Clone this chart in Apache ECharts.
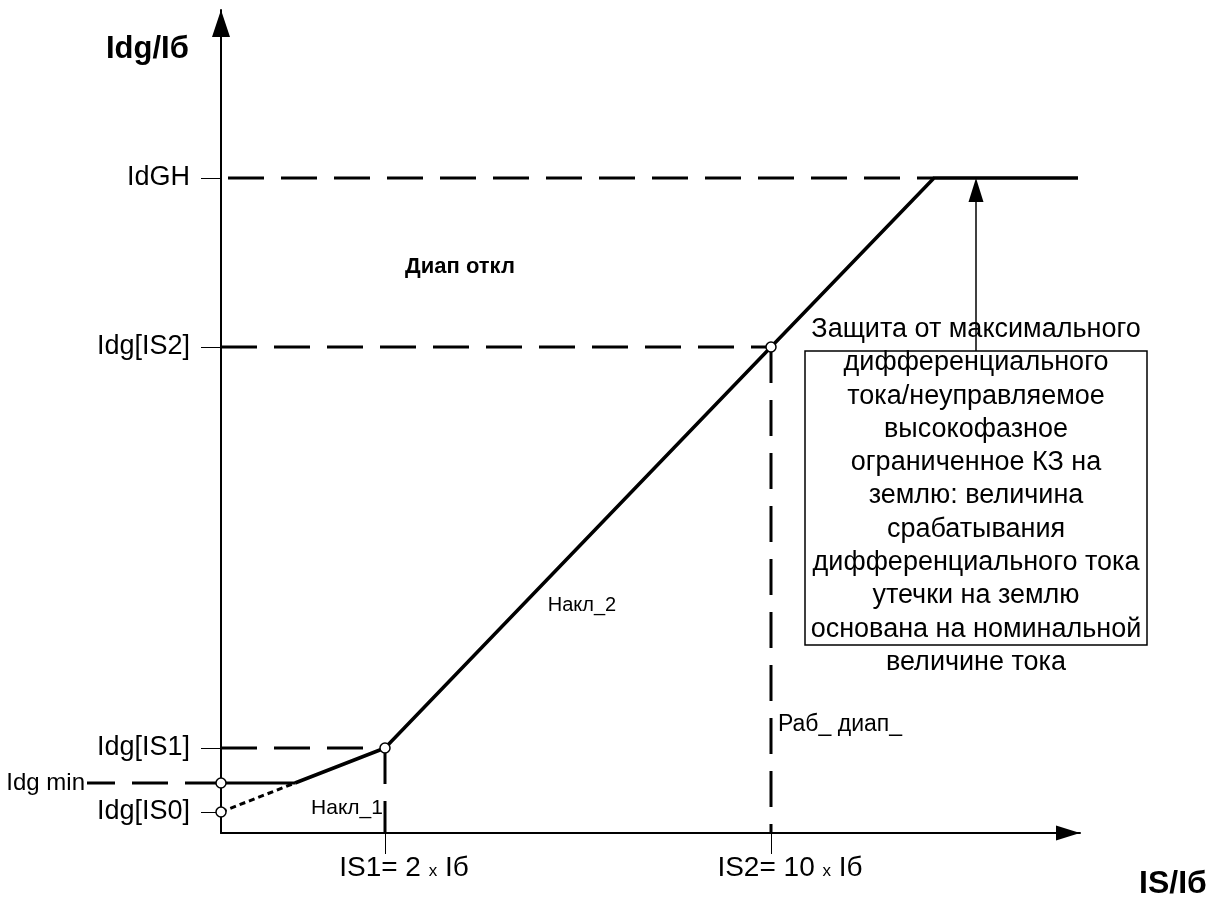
<!DOCTYPE html>
<html>
<head>
<meta charset="utf-8">
<title>Idg/Iб</title>
<script src="https://cdn.jsdelivr.net/npm/echarts@6/dist/echarts.min.js"></script>
<style>
  html, body { margin: 0; padding: 0; background: #fff; }
  #chart { width: 1227px; height: 914px; }
</style>
</head>
<body>
<div id="chart"></div>
<script>
// уровни по оси Y (условные единицы схемы)
var yTickValues = [65.5, 48.6, 8.5, 2.1];
var yTickLabels = ['IdGH', 'Idg[IS2]', 'Idg[IS1]', 'Idg[IS0]'];
var idgMin = 5.0;
var idgMinLabel = 'Idg min';

// точки по оси X
var xTickValues = [16.4, 55.0];
var xTickLabels = ['IS1= 2 {s|x} Iб', 'IS2= 10 {s|x} Iб'];

// характеристика срабатывания
var xBreak = 7.4;          // пересечение Накл_1 с Idg min
var xKnee = 71.3;          // выход на IdGH
var xEnd = 85.7;
var tripCurve = [[xBreak, idgMin], [16.4, 8.5], [55.0, 48.6], [xKnee, 65.5], [xEnd, 65.5]];
var minLine = [[0, idgMin], [xBreak, idgMin]];
var slope1Ext = [[0, 2.1], [xBreak, idgMin]];
var circlePts = [[0, idgMin], [0, 2.1], [16.4, 8.5], [55.0, 48.6]];

// вспомогательные штриховые линии (null разрывает отрезки)
var guideLines = [
  [0.7, 65.5], [xKnee, 65.5], null,
  [0, 48.6], [55.0, 48.6], null,
  [0, 8.5], [16.4, 8.5], null,
  [55.0, 48.6], [55.0, 0], null,
  [16.4, 8.5], [16.4, 0]
];
var minLineLeft = [[0, idgMin], [-13.4, idgMin]];   // левее оси Y

// подписи на поле графика
var noteTexts = ['Диап откл', 'Накл_2', 'Накл_1', 'Раб_ диап_'];
var notePos = [[23.9, 56.6], [36.1, 22.8], [12.6, 2.5], [55.7, 10.8]];

// рамка с пояснением и стрелка к IdGH
var boxText = [
  'Защита от максимального',
  'дифференциального',
  'тока/неуправляемое',
  'высокофазное',
  'ограниченное КЗ на',
  'землю: величина',
  'срабатывания',
  'дифференциального тока',
  'утечки на землю',
  'основана на номинальной',
  'величине тока'
];
var boxCorners = [[58.4, 48.2], [92.6, 18.8]];
var boxTextAt = [75.5, 33.7];
var arrowX = 75.5;
var arrowTip = 65.5;

var FONT = '"Liberation Sans", Arial, sans-serif';
var chart = echarts.init(document.getElementById('chart'));

var guideData = guideLines.map(function (p) { return p ? p : [null, null]; });

var noteStyles = [
  { fontSize: 22, fontWeight: 'bold', align: 'center' },
  { fontSize: 20, align: 'center' },
  { fontSize: 21, align: 'center' },
  { fontSize: 23, align: 'left' }
];
function textItem(txt, pos, st) {
  return {
    name: txt,
    value: pos,
    label: {
      show: true, position: 'inside', formatter: txt,
      fontFamily: FONT, color: '#000',
      fontSize: st.fontSize,
      fontWeight: st.fontWeight || 'normal',
      lineHeight: st.lineHeight,
      align: st.align
    }
  };
}
var noteData = noteTexts.map(function (t, i) { return textItem(t, notePos[i], noteStyles[i]); });
noteData.push(textItem(idgMinLabel, [-13.6, idgMin], { fontSize: 24, align: 'right' }));
noteData.push(textItem(boxText.join('\n'), boxTextAt, { fontSize: 27, lineHeight: 33.3, align: 'center' }));

var option = {
  animation: false,
  backgroundColor: '#fff',
  title: [
    { text: 'Idg/Iб', left: 106, top: 34, padding: 0, textStyle: { fontFamily: FONT, fontSize: 31, fontWeight: 'bold', color: '#000' } },
    { text: 'IS/Iб', left: 1139, top: 868, padding: 0, textStyle: { fontFamily: FONT, fontSize: 32, fontWeight: 'bold', color: '#000' } }
  ],
  grid: { left: 221, right: 147, top: 10, bottom: 81 },
  xAxis: {
    type: 'value', min: 0, max: 85.9,
    // стрелка сдвинута назад на половину длины: острие ровно на конце оси
    axisLine: { show: true, onZero: false, symbol: ['none', 'triangle'], symbolSize: [15, 24], symbolOffset: [0, -12], lineStyle: { color: '#000', width: 2 } },
    axisTick: { show: true, customValues: xTickValues, length: 21, inside: false, lineStyle: { color: '#000', width: 1 } },
    axisLabel: {
      show: true, customValues: xTickValues, margin: 21,
      padding: [0, 0, 0, 38],
      formatter: function (v) { return '{a|' + xTickLabels[xTickValues.indexOf(v)].replace('{s|x}', '}{s|x}{a|') + '}'; },
      rich: {
        a: { fontFamily: FONT, fontSize: 28, color: '#000' },
        s: { fontFamily: FONT, fontSize: 17, color: '#000', padding: [7, 0, 0, 0] }
      }
    },
    splitLine: { show: false }
  },
  yAxis: {
    type: 'value', min: 0, max: 82.3,
    axisLine: { show: true, onZero: false, symbol: ['none', 'triangle'], symbolSize: [18, 27], symbolOffset: [0, -13.5], lineStyle: { color: '#000', width: 2 } },
    axisTick: { show: true, customValues: yTickValues, length: 20, inside: false, lineStyle: { color: '#000', width: 1 } },
    axisLabel: {
      show: true, customValues: yTickValues, margin: 31,
      fontFamily: FONT, fontSize: 27, color: '#000',
      formatter: function (v) { return yTickLabels[yTickValues.indexOf(v)]; }
    },
    splitLine: { show: false }
  },
  series: [
    {
      type: 'line', data: guideData, symbol: 'none', connectNulls: false,
      lineStyle: { color: '#000', width: 3, type: [36, 17] }, z: 2
    },
    {
      type: 'line', data: slope1Ext, symbol: 'none',
      lineStyle: { color: '#000', width: 3, type: [6, 4] }, z: 3
    },
    {
      type: 'line', data: minLine, symbol: 'none',
      lineStyle: { color: '#000', width: 3 }, z: 3
    },
    {
      type: 'line', data: tripCurve, symbol: 'none',
      lineStyle: { color: '#000', width: 3.5 }, z: 3
    },
    {
      type: 'scatter', data: circlePts, symbol: 'circle', symbolSize: 10,
      itemStyle: { color: '#fff', borderColor: '#000', borderWidth: 1.5, opacity: 1 }, z: 5
    },
    {
      type: 'scatter', data: noteData, clip: false, symbolSize: 0,
      itemStyle: { opacity: 1 }, z: 6
    }
  ]
};
chart.setOption(option);

// рамка, стрелка и левый кусок Idg min выходят за сетку —
// рисуем их по пикселям, полученным из осей
function px(p) { return chart.convertToPixel({ gridIndex: 0 }, p); }
var b0 = px(boxCorners[0]);
var b1 = px(boxCorners[1]);
var a0 = px([arrowX, boxCorners[0][1]]);
var a1 = px([arrowX, arrowTip]);
var headLen = 24, headW = 15;
chart.setOption({
  graphic: [
    {
      type: 'polyline', z: 3,
      shape: { points: minLineLeft.map(px) },
      style: { stroke: '#000', lineWidth: 3, lineDash: [36, 17], fill: null }
    },
    {
      type: 'rect', z: 4,
      shape: { x: b0[0], y: b0[1], width: b1[0] - b0[0], height: b1[1] - b0[1] },
      style: { fill: 'none', stroke: '#000', lineWidth: 1.5 }
    },
    {
      type: 'line', z: 4,
      shape: { x1: a0[0], y1: a0[1], x2: a1[0], y2: a1[1] + headLen },
      style: { stroke: '#000', lineWidth: 1.5 }
    },
    {
      type: 'polygon', z: 4,
      shape: { points: [[a1[0], a1[1]], [a1[0] - headW / 2, a1[1] + headLen], [a1[0] + headW / 2, a1[1] + headLen]] },
      style: { fill: '#000' }
    }
  ]
});
</script>
</body>
</html>
